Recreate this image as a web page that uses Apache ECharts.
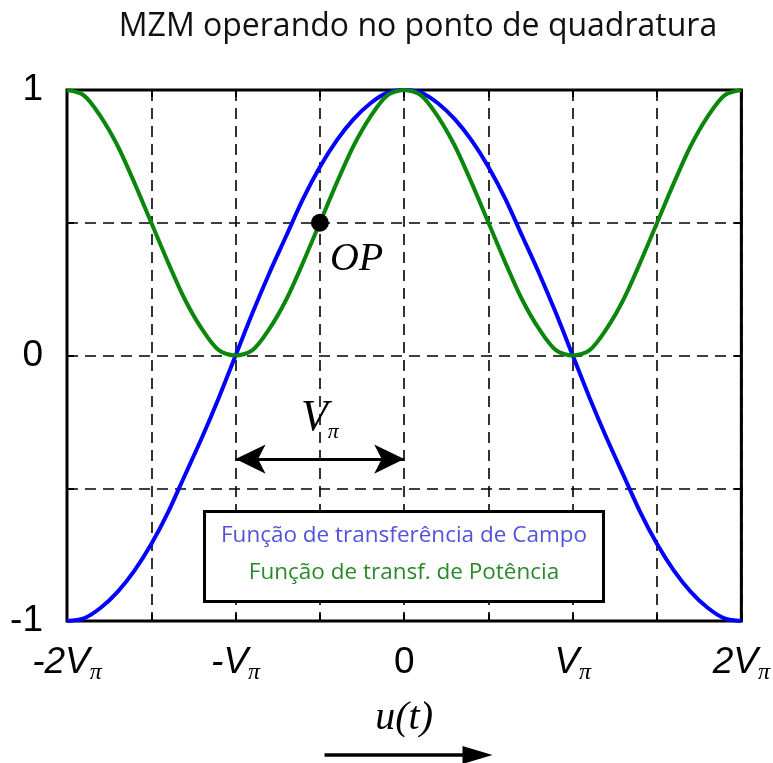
<!DOCTYPE html>
<html>
<head>
<meta charset="utf-8">
<script src="https://cdn.jsdelivr.net/npm/echarts@6/dist/echarts.min.js"></script>
<style>
  html, body { margin: 0; padding: 0; background: #fff; }
  #chart { width: 773px; height: 763px; }
</style>
</head>
<body>
<div id="chart"></div>
<script>
// Bias voltage u(t), in units of V_pi
const uValues = [-2.0, -1.9, -1.8, -1.7, -1.6, -1.5, -1.4, -1.3, -1.2, -1.1, -1.0,
                 -0.9, -0.8, -0.7, -0.6, -0.5, -0.4, -0.3, -0.2, -0.1, 0.0,
                  0.1,  0.2,  0.3,  0.4,  0.5,  0.6,  0.7,  0.8,  0.9, 1.0,
                  1.1,  1.2,  1.3,  1.4,  1.5,  1.6,  1.7,  1.8,  1.9, 2.0];

// Field transfer function (blue)
const fieldValues = [-1.00, -0.99, -0.95, -0.89, -0.81, -0.71, -0.59, -0.45, -0.31, -0.16, 0.00,
                      0.16,  0.31,  0.45,  0.59,  0.71,  0.81,  0.89,  0.95,  0.99, 1.00,
                      0.99,  0.95,  0.89,  0.81,  0.71,  0.59,  0.45,  0.31,  0.16, 0.00,
                     -0.16, -0.31, -0.45, -0.59, -0.71, -0.81, -0.89, -0.95, -0.99, -1.00];

// Power transfer function (green)
const powerValues = [1.00, 0.98, 0.90, 0.79, 0.65, 0.50, 0.35, 0.21, 0.10, 0.02, 0.00,
                     0.02, 0.10, 0.21, 0.35, 0.50, 0.65, 0.79, 0.90, 0.98, 1.00,
                     0.98, 0.90, 0.79, 0.65, 0.50, 0.35, 0.21, 0.10, 0.02, 0.00,
                     0.02, 0.10, 0.21, 0.35, 0.50, 0.65, 0.79, 0.90, 0.98, 1.00];

// Operating point (quadrature)
const opPoint = [-0.5, 0.5];

// V_pi span marker
const vpiSpan = [[-1.0, -0.39], [0.0, -0.39]];

// Axis tick labels
const xTickLabels = { '-2': '{v|-2V}{p|π}', '-1': '{v|-V}{p|π}', '0': '{n|0}', '1': '{v|V}{p|π}', '2': '{v|2V}{p|π}' };
const yTickLabels = { '-1': '-1', '0': '0', '1': '1' };

const seriesNames = ['Função de transferência de Campo', 'Função de transf. de Potência'];
const titleText = 'MZM operando no ponto de quadratura';

const chart = echarts.init(document.getElementById('chart'));

const zip = (xs, ys) => xs.map((x, i) => [x, ys[i]]);

const gridLine = { show: true, lineStyle: { color: '#000', width: 1.6, type: [11, 7] } };
const tickIn = { show: true, inside: true, length: 7, lineStyle: { color: '#000', width: 2 } };
const noLine = { show: false, onZero: false };

const serifItalic = { fontFamily: 'Liberation Serif', fontStyle: 'italic', color: '#000' };

chart.setOption({
  animation: false,
  backgroundColor: '#fff',
  title: {
    text: titleText,
    left: 413,
    top: 6,
    textAlign: 'center',
    textStyle: { fontFamily: 'Open Sans', fontWeight: 'normal', fontSize: 32, color: '#111' }
  },
  grid: {
    left: 67, right: 31, top: 90, bottom: 142,
    show: true, borderColor: '#000', borderWidth: 3, backgroundColor: 'transparent'
  },
  xAxis: [{
    type: 'value', min: -2, max: 2, interval: 0.5,
    axisLine: noLine,
    axisTick: tickIn,
    splitLine: gridLine,
    name: 'u(t)', nameLocation: 'middle', nameGap: 77,
    nameTextStyle: Object.assign({ fontSize: 40 }, serifItalic),
    axisLabel: {
      margin: 20,
      formatter: v => xTickLabels[String(v)] || '',
      rich: {
        v: { fontFamily: 'Liberation Sans', fontStyle: 'italic', fontSize: 37, color: '#000', lineHeight: 44 },
        n: { fontFamily: 'Liberation Sans', fontSize: 37, color: '#000', lineHeight: 44 },
        p: { fontFamily: 'Liberation Serif', fontStyle: 'italic', fontSize: 24, color: '#000', verticalAlign: 'bottom', lineHeight: 18 }
      }
    }
  }, {
    type: 'value', min: -2, max: 2, interval: 0.5, position: 'top',
    axisLine: noLine, axisTick: tickIn, axisLabel: { show: false }, splitLine: { show: false }
  }],
  yAxis: [{
    type: 'value', min: -1, max: 1, interval: 0.5,
    axisLine: noLine,
    axisTick: tickIn,
    splitLine: gridLine,
    axisLabel: {
      margin: 24,
      formatter: v => yTickLabels[String(v)] || '',
      fontFamily: 'Liberation Sans', fontSize: 37, color: '#000'
    }
  }, {
    type: 'value', min: -1, max: 1, interval: 0.5, position: 'right',
    axisLine: noLine, axisTick: tickIn, axisLabel: { show: false }, splitLine: { show: false }
  }],
  series: [{
    name: seriesNames[0],
    type: 'line',
    data: zip(uValues, fieldValues),
    smooth: 0.3,
    showSymbol: false,
    lineStyle: { color: '#0000ff', width: 4 },
    z: 3
  }, {
    name: seriesNames[1],
    type: 'line',
    data: zip(uValues, powerValues),
    smooth: 0.3,
    showSymbol: false,
    lineStyle: { color: '#0a860a', width: 4 },
    z: 4,
    markLine: {
      silent: true,
      symbol: ['arrow', 'arrow'],
      symbolSize: [22, 30],
      lineStyle: { color: '#000', width: 3, type: 'solid' },
      label: {
        show: true,
        position: 'middle',
        distance: 16,
        formatter: '{v|V}{p|π}',
        rich: {
          v: Object.assign({ fontSize: 44, lineHeight: 50 }, serifItalic),
          p: Object.assign({ fontSize: 22, lineHeight: 16, verticalAlign: 'bottom' }, serifItalic)
        }
      },
      data: [[{ coord: vpiSpan[0] }, { coord: vpiSpan[1] }]]
    }
  }, {
    name: 'OP',
    type: 'scatter',
    data: [opPoint],
    symbolSize: 18,
    itemStyle: { color: '#000', opacity: 1 },
    z: 6,
    label: {
      show: true,
      formatter: 'OP',
      position: [19, 26],
      fontSize: 40,
      fontFamily: 'Liberation Serif', fontStyle: 'italic', color: '#000'
    }
  }],
  graphic: [{
    type: 'group',
    left: 203, top: 510,
    z: 100,
    children: [{
      type: 'rect',
      z: 100,
      shape: { x: 0, y: 0, width: 399, height: 90 },
      style: { fill: '#fff', stroke: '#000', lineWidth: 3 }
    }, {
      type: 'text',
      z: 101,
      x: 199.5, y: 24,
      style: { text: seriesNames[0], fill: '#5252dc', font: '22.5px "Open Sans"', textAlign: 'center', textVerticalAlign: 'middle' }
    }, {
      type: 'text',
      z: 101,
      x: 199.5, y: 61,
      style: { text: seriesNames[1], fill: '#2a8a2a', font: '22.5px "Open Sans"', textAlign: 'center', textVerticalAlign: 'middle' }
    }]
  }, {
    type: 'group',
    left: 322, top: 746,
    children: [{
      type: 'line',
      shape: { x1: 0, y1: 9, x2: 150, y2: 9 },
      style: { stroke: '#000', lineWidth: 3.5 }
    }, {
      type: 'polygon',
      shape: { points: [[138, 0], [168, 9], [138, 18]] },
      style: { fill: '#000' }
    }]
  }]
});
</script>
</body>
</html>
